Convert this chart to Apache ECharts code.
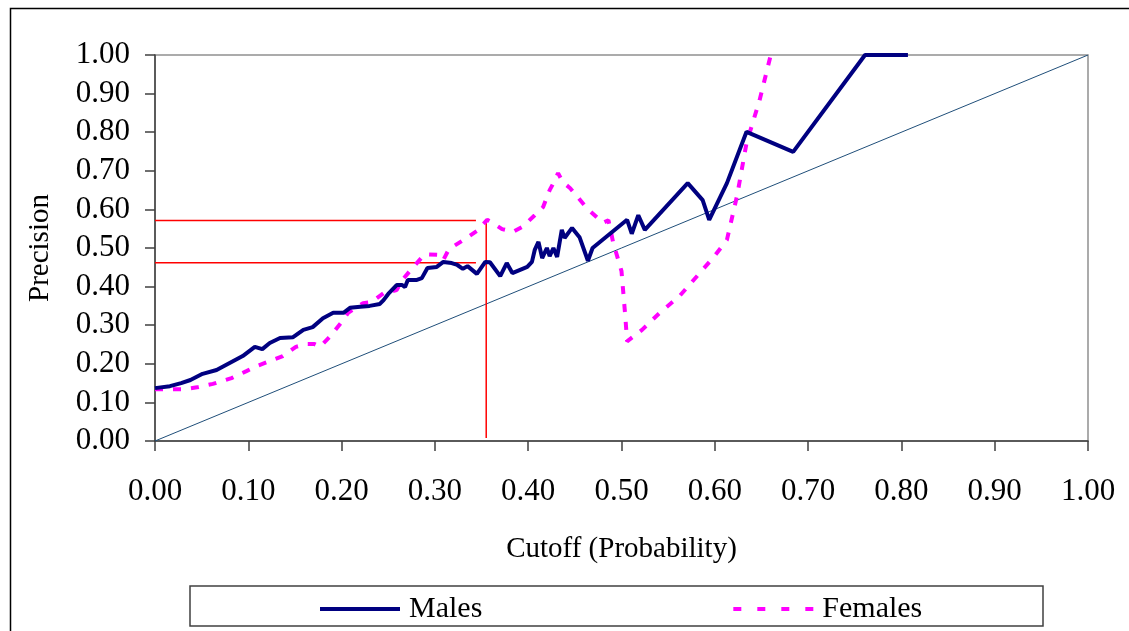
<!DOCTYPE html>
<html>
<head>
<meta charset="utf-8">
<script src="https://cdn.jsdelivr.net/npm/echarts@6/dist/echarts.min.js"></script>
<style>html,body{margin:0;padding:0;background:#fff;}#c{width:1129px;height:631px;}</style>
</head>
<body>
<div id="c"></div>
<script>
const males = [[0.000,0.137],[0.016,0.142],[0.028,0.150],[0.038,0.158],[0.051,0.174],[0.066,0.184],[0.080,0.202],[0.094,0.220],[0.107,0.244],[0.115,0.238],[0.123,0.254],[0.134,0.267],[0.148,0.269],[0.159,0.288],[0.169,0.295],[0.180,0.318],[0.191,0.332],[0.202,0.332],[0.209,0.345],[0.220,0.348],[0.230,0.350],[0.241,0.355],[0.245,0.365],[0.250,0.381],[0.259,0.404],[0.265,0.404],[0.268,0.399],[0.271,0.417],[0.280,0.417],[0.286,0.422],[0.292,0.448],[0.302,0.451],[0.309,0.464],[0.318,0.461],[0.324,0.456],[0.330,0.446],[0.335,0.453],[0.345,0.433],[0.354,0.464],[0.359,0.463],[0.370,0.427],[0.377,0.461],[0.383,0.435],[0.399,0.451],[0.404,0.464],[0.407,0.495],[0.411,0.516],[0.415,0.474],[0.420,0.500],[0.423,0.479],[0.427,0.500],[0.431,0.477],[0.436,0.547],[0.439,0.526],[0.447,0.552],[0.455,0.528],[0.464,0.467],[0.469,0.500],[0.506,0.573],[0.511,0.537],[0.518,0.585],[0.525,0.547],[0.571,0.668],[0.587,0.624],[0.594,0.573],[0.613,0.668],[0.634,0.801],[0.684,0.749],[0.761,1.000],[0.807,1.000]];
const females = [[0.000,0.134],[0.030,0.134],[0.045,0.139],[0.062,0.148],[0.082,0.163],[0.098,0.181],[0.110,0.195],[0.123,0.207],[0.137,0.220],[0.151,0.244],[0.162,0.251],[0.171,0.251],[0.177,0.244],[0.187,0.269],[0.199,0.305],[0.207,0.332],[0.223,0.357],[0.232,0.360],[0.245,0.383],[0.259,0.391],[0.265,0.417],[0.273,0.440],[0.289,0.484],[0.305,0.482],[0.309,0.469],[0.315,0.497],[0.332,0.523],[0.346,0.546],[0.356,0.573],[0.362,0.565],[0.372,0.549],[0.384,0.542],[0.394,0.555],[0.407,0.585],[0.416,0.606],[0.423,0.650],[0.427,0.668],[0.432,0.694],[0.437,0.671],[0.445,0.655],[0.463,0.603],[0.480,0.565],[0.486,0.572],[0.491,0.515],[0.500,0.440],[0.504,0.325],[0.506,0.258],[0.522,0.288],[0.541,0.332],[0.562,0.375],[0.598,0.474],[0.613,0.521],[0.624,0.637],[0.634,0.772],[0.648,0.883],[0.660,1.000]];
const diagonal = [[0,0],[1,1]];
const refHigh = [[0,0.571],[0.344,0.571]];
const refLow = [[0,0.462],[0.344,0.462]];
const refCutoff = [[0.355,0.571],[0.355,0.008]];
const seriesNames = ['Males','Females'];
const xTitle = 'Cutoff (Probability)';
const yTitle = 'Precision';

const FONT = 'Liberation Serif';
const chart = echarts.init(document.getElementById('c'), null, {renderer:'canvas'});
const refStyle = {color:'#FF0000', width:1.5};
const axisCommon = {
  type:'value', min:0, max:1, interval:0.1,
  splitLine:{show:false},
  axisLine:{show:true, lineStyle:{color:'#404040', width:1.5}},
  axisTick:{show:true, inside:false, length:10, lineStyle:{color:'#404040', width:1.5}},
  axisLabel:{fontFamily:FONT, fontSize:31, color:'#000', formatter:v=>v.toFixed(2)},
  nameLocation:'middle',
  nameTextStyle:{fontFamily:FONT, fontSize:29, color:'#000'}
};
const maleIcon = 'path://M0,0h80v4h-80z';
const femaleIcon = 'path://M0,0h8v4h-8z M24,0h8v4h-8z M48,0h8v4h-8z M72,0h8v4h-8z';
chart.setOption({
  backgroundColor:'#fff',
  animation:false,
  grid:{left:155, right:41, top:55, bottom:190, show:true, borderColor:'#909090', borderWidth:1.5, backgroundColor:'transparent'},
  xAxis:Object.assign({}, axisCommon, {name:xTitle, nameGap:94, axisLabel:Object.assign({}, axisCommon.axisLabel, {margin:35})}),
  yAxis:Object.assign({}, axisCommon, {name:yTitle, nameGap:100, axisLabel:Object.assign({}, axisCommon.axisLabel, {margin:25})}),
  legend:{
    data:[
      {name:seriesNames[0], icon:maleIcon, lineStyle:{width:4, type:'solid'}},
      {name:seriesNames[1], icon:femaleIcon, lineStyle:{width:4, type:[8,16]}}
    ],
    left:320, top:594, itemWidth:82, itemHeight:4, itemGap:251, padding:0,
    itemStyle:{borderWidth:0},
    textStyle:{fontFamily:FONT, fontSize:30, color:'#000', padding:[0,0,0,3]}
  },
  graphic:[
    {type:'rect', left:8, top:6, shape:{x:0,y:0,width:1200,height:700}, style:{fill:'none', stroke:'#000', lineWidth:1.5}, silent:true, z:-10},
    {type:'rect', shape:{x:190,y:586,width:853,height:40}, style:{fill:'none', stroke:'#404040', lineWidth:1.5}, silent:true}
  ],
  series:[
    {name:'diag', type:'line', data:diagonal, symbol:'none', lineStyle:{color:'#1F4E79', width:1}, z:1, silent:true},
    {name:'r1', type:'line', data:refHigh, symbol:'none', lineStyle:refStyle, z:2, silent:true},
    {name:'r2', type:'line', data:refLow, symbol:'none', lineStyle:refStyle, z:2, silent:true},
    {name:'r3', type:'line', data:refCutoff, symbol:'none', lineStyle:refStyle, z:2, silent:true},
    {name:'Males', type:'line', data:males, symbol:'none', itemStyle:{color:'#000080'}, lineStyle:{color:'#000080', width:4}, z:4},
    {name:'Females', type:'line', data:females, symbol:'none', itemStyle:{color:'#FF00FF'}, lineStyle:{color:'#FF00FF', width:4, type:[8,10]}, z:3}
  ]
});
</script>
</body>
</html>
